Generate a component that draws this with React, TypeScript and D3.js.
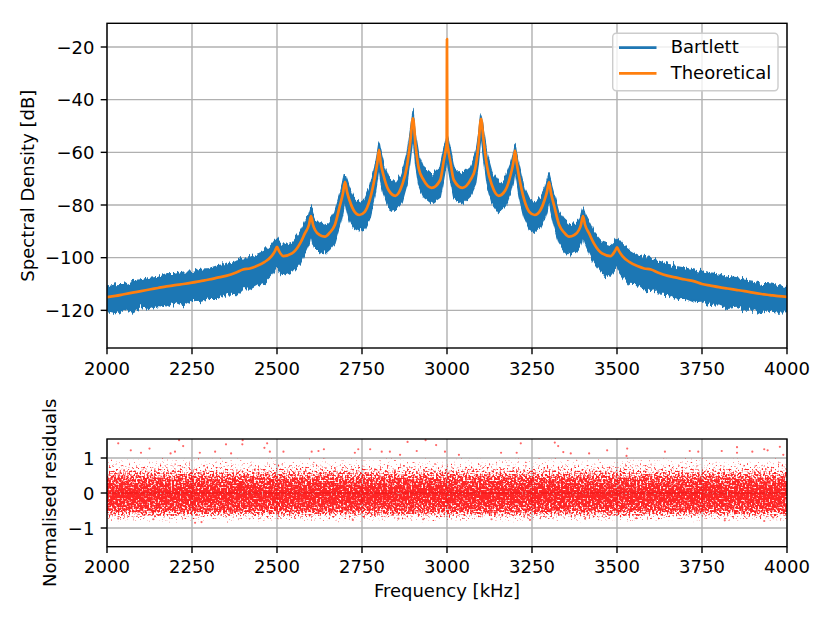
import React from 'react';
import * as d3 from 'd3';

// spectrum (kHz, dB)
const freqs = [
  2000, 2025, 2050, 2075, 2100, 2125, 2150, 2175, 2200, 2225, 2250, 2275, 2300, 2325, 2350,
  2380, 2400, 2420, 2440, 2464, 2484, 2494, 2500, 2506, 2519, 2544,
  2568, 2582, 2594, 2600, 2606, 2612, 2626, 2641, 2655, 2670,
  2685, 2694, 2700, 2706, 2713, 2725, 2742, 2758, 2773,
  2788, 2795, 2800, 2805, 2813, 2828, 2848, 2868, 2882,
  2892, 2900, 2908, 2917, 2931, 2955, 2980, 2990, 2997, 2999, 3000, 3001, 3003,
  3010, 3020, 3045, 3069, 3083, 3092, 3100, 3108, 3118,
  3132, 3152, 3172, 3187, 3195, 3200, 3205, 3212,
  3227, 3242, 3258, 3275, 3287, 3294, 3300, 3306, 3315,
  3330, 3345, 3359, 3374, 3388, 3394, 3400, 3406, 3418, 3432,
  3456, 3481, 3494, 3500, 3506, 3516, 3536, 3560, 3580, 3600, 3620,
  3650, 3675, 3700, 3725, 3750, 3775, 3800, 3825, 3850, 3875, 3900, 3925, 3950, 3975, 4000,
];

const theoretical = [
  -115.0, -114.5, -113.9, -113.3, -112.7, -112.1, -111.5, -110.9, -110.4, -110.0, -109.5, -108.9, -108.3, -107.6, -106.9,
  -105.6, -104.5, -104.1, -103.2, -101.6, -99.4, -97.5, -95.9, -97.5, -99.4, -98.4,
  -94.6, -90.8, -87.5, -84.2, -87.5, -89.5, -91.4, -92.0, -90.5, -87.6,
  -80.2, -75.5, -71.2, -75.0, -78.1, -81.9, -83.8, -82.6, -78.0,
  -69.3, -64.0, -59.1, -64.0, -68.6, -74.3, -76.5, -72.4, -65.5,
  -56.0, -47.1, -58.0, -66.1, -70.5, -73.5, -70.5, -63.6, -58.5, -56.5, -17.0, -56.5, -58.5,
  -63.6, -70.5, -73.5, -70.5, -66.1, -58.0, -47.3, -56.0, -65.5,
  -72.4, -76.5, -74.3, -68.6, -64.0, -59.3, -64.0, -69.3,
  -78.0, -82.6, -83.8, -81.9, -78.1, -75.0, -71.3, -75.5, -80.2,
  -87.6, -90.5, -92.0, -91.4, -89.5, -87.5, -84.2, -87.5, -90.8, -94.6,
  -98.4, -99.4, -97.5, -96.1, -97.5, -99.4, -101.6, -103.2, -104.1, -104.5, -105.6,
  -106.9, -107.6, -108.3, -108.9, -110.0, -110.6, -111.2, -111.7, -112.2, -112.7, -113.3, -113.8, -114.2, -114.6, -114.9,
];

// top and bottom edge of the noisy Bartlett estimate
const bartlettUpper = [
  -111.2, -110.4, -110.2, -109.1, -108.9, -107.9, -107.5, -106.6, -106.4, -105.5, -105.4, -104.5, -104.2, -103.1, -102.7,
  -101.1, -100.2, -100.0, -98.9, -97.5, -95.2, -93.5, -92.6, -93.8, -95.4, -94.2,
  -90.3, -86.8, -83.5, -81.0, -83.6, -85.4, -87.1, -87.8, -86.2, -83.0,
  -76.2, -71.8, -68.5, -71.2, -74.0, -77.4, -79.2, -78.1, -73.4,
  -65.4, -60.4, -56.5, -60.2, -64.4, -69.5, -71.6, -67.7, -61.0,
  -52.2, -44.9, -53.8, -61.1, -65.8, -68.6, -65.7, -59.4, -55.2, -54.2, -53.6, -54.2, -55.0,
  -59.2, -65.6, -68.4, -65.9, -61.3, -54.0, -45.1, -52.4, -60.8,
  -67.6, -71.8, -69.7, -64.5, -60.3, -56.6, -60.5, -65.2,
  -73.6, -77.9, -79.3, -77.2, -74.2, -71.4, -68.5, -71.6, -76.0,
  -83.2, -86.0, -87.6, -87.2, -85.5, -83.7, -81.1, -83.6, -86.6, -90.5,
  -94.1, -95.2, -93.6, -92.7, -93.7, -95.3, -97.2, -99.0, -99.9, -100.4, -101.2,
  -102.6, -103.4, -104.0, -104.7, -105.4, -106.2, -106.7, -107.5, -108.0, -108.6, -109.0, -109.8, -110.0, -110.7, -111.0,
];

const bartlettLower = [
  -120.4, -121.2, -119.5, -120.6, -118.8, -119.7, -118.1, -118.6, -116.8, -118.2, -116.1, -116.6, -115.4, -115.4, -113.6,
  -114.0, -111.6, -111.9, -110.4, -109.1, -106.6, -104.4, -103.0, -104.8, -106.7, -105.4,
  -102.0, -97.8, -94.4, -90.8, -94.6, -96.8, -98.0, -98.5, -96.8, -94.3,
  -87.5, -82.6, -78.0, -81.8, -85.4, -88.6, -89.8, -89.0, -84.6,
  -76.1, -70.4, -65.5, -70.7, -75.4, -80.8, -82.4, -78.7, -72.0,
  -62.6, -53.4, -64.6, -72.1, -76.8, -79.3, -77.0, -70.1, -65.0, -62.8, -61.7, -62.8, -65.1,
  -70.4, -77.2, -79.6, -76.6, -72.5, -64.3, -53.8, -62.4, -72.2,
  -79.0, -82.8, -80.6, -75.2, -70.8, -65.7, -70.5, -76.4,
  -84.8, -89.1, -90.3, -88.4, -85.0, -82.1, -77.8, -82.9, -87.8,
  -94.5, -97.3, -98.8, -97.9, -96.5, -94.8, -91.0, -94.3, -98.1, -101.7,
  -105.8, -107.0, -104.6, -103.2, -105.0, -106.8, -110.0, -110.2, -112.2, -111.8, -113.7,
  -113.9, -115.6, -115.3, -116.7, -116.4, -118.1, -117.8, -119.2, -118.7, -119.9, -119.8, -121.1, -120.2, -120.6, -120.4,
];

// residual cloud: sparse spread and dense core
const residFreq = [2000, 2250, 2500, 2750, 3000, 3250, 3500, 3750, 4000];
const residSpreadUpper = [1.02, 1.0, 1.02, 1.04, 1.02, 1.0, 1.02, 1.02, 1.04];
const residSpreadLower = [-0.84, -0.86, -0.84, -0.84, -0.86, -0.85, -0.84, -0.86, -0.84];
const residCoreUpper = [0.4, 0.38, 0.4, 0.42, 0.4, 0.38, 0.4, 0.4, 0.42];
const residCoreLower = [-0.5, -0.52, -0.5, -0.48, -0.52, -0.5, -0.5, -0.52, -0.5];

const outlierFreq = [
  2033, 2070, 2100, 2125, 2187, 2200, 2212, 2224, 2273, 2318, 2350, 2365, 2398, 2399, 2463, 2471, 2479,
  2519, 2602, 2622, 2638, 2729, 2739, 2774, 2808, 2832, 2862, 2884, 2911, 2937, 2968, 2994,
  3035, 3159, 3205, 3217, 3317, 3327, 3342, 3364, 3418, 3471, 3528, 3530, 3641, 3714, 3739,
  3808, 3853, 3853, 3898, 3933, 3943, 3979, 3989,
  2033, 2136, 2259, 2278, 2723, 2857, 2930, 3131, 3244, 3406, 3557, 3817, 3933, 3959,
];
const outlierValue = [
  1.42, 1.22, 1.15, 1.27, 1.13, 1.18, 1.51, 1.34, 1.15, 1.18, 1.39, 1.13, 1.39, 1.51, 1.29, 1.42, 1.18,
  1.18, 1.18, 1.2, 1.25, 1.15, 1.25, 1.25, 1.18, 1.18, 1.09, 1.46, 1.2, 1.51, 1.37, 1.18,
  1.09, 1.15, 1.15, 1.42, 1.44, 1.34, 1.17, 1.13, 1.13, 1.22, 1.06, 1.27, 1.18, 1.2, 1.18,
  1.2, 1.31, 1.15, 1.18, 1.25, 1.22, 1.32, 1.09,
  -0.73, -0.75, -0.85, -0.83, -0.77, -0.73, -0.75, -0.75, -0.77, -0.73, -0.72, -0.78, -0.8, -0.7,
];

const freqTicks = [2000, 2250, 2500, 2750, 3000, 3250, 3500, 3750, 4000];
const densityTicks = [-120, -100, -80, -60, -40, -20];
const residTicks = [-1, 0, 1];

const FONT = 'DejaVu Sans, sans-serif';
const FS = 18;
const GRID = '#b0b0b0';
const TICK = 6.3;

const L = 107;
const R = 787;
const T1 = 23.3;
const B1 = 348;
const T2 = 439;
const B2 = 546.7;

export default function App() {
  const x = d3.scaleLinear().domain([2000, 4000]).range([L, R]);
  const y1 = d3.scaleLinear().domain([-134.3, -11.0]).range([B1, T1]);
  const y2 = d3.scaleLinear().domain([-1.534, 1.543]).range([B2, T2]);
  const fmt = d3.format('d');

  const band = d3
    .area<number>()
    .x((_, i) => x(freqs[i]))
    .y0((_, i) => y1(bartlettLower[i]))
    .y1((_, i) => y1(bartlettUpper[i]));

  const theo = d3
    .line<number>()
    .x((_, i) => x(freqs[i]))
    .y((d) => y1(d))
    .curve(d3.curveMonotoneX);

  const spread = d3
    .area<number>()
    .x((_, i) => x(residFreq[i]))
    .y0((_, i) => y2(residSpreadLower[i]))
    .y1((_, i) => y2(residSpreadUpper[i]));

  // density profile of the residual cloud, as gradient stops
  const gTop = y2(d3.max(residSpreadUpper) as number);
  const gBot = y2(d3.min(residSpreadLower) as number);
  const off = (v: number) => (y2(v) - gTop) / (gBot - gTop);
  const coreTop = off(d3.mean(residCoreUpper) as number);
  const coreBot = off(d3.mean(residCoreLower) as number);

  const yTicks = (scale: d3.ScaleLinear<number, number>, ticks: number[]) =>
    ticks.map((t) => (
      <g key={t}>
        <line x1={L} x2={L - TICK} y1={scale(t)} y2={scale(t)} stroke="#000" strokeWidth={1.4} />
        <text x={L - TICK - 6.3} y={scale(t) + 0.365 * FS} textAnchor="end" fontSize={FS}>
          {fmt(t)}
        </text>
      </g>
    ));

  const xTicks = (bottom: number) =>
    freqTicks.map((t) => (
      <g key={t}>
        <line x1={x(t)} x2={x(t)} y1={bottom} y2={bottom + TICK} stroke="#000" strokeWidth={1.4} />
        <text x={x(t)} y={bottom + 26.6} textAnchor="middle" fontSize={FS}>
          {t}
        </text>
      </g>
    ));

  const grid = (top: number, bottom: number, scale: d3.ScaleLinear<number, number>, ticks: number[]) => (
    <g stroke={GRID} strokeWidth={1.4}>
      {freqTicks.map((t) => (
        <line key={'v' + t} x1={x(t)} x2={x(t)} y1={top} y2={bottom} />
      ))}
      {ticks.map((t) => (
        <line key={'h' + t} x1={L} x2={R} y1={scale(t)} y2={scale(t)} />
      ))}
    </g>
  );

  return (
    <svg
      width={830}
      height={623}
      style={{ position: 'absolute', left: 0, top: 0, background: '#fff' }}
      fontFamily={FONT}
    >
      <defs>
        <clipPath id="clipTop">
          <rect x={L} y={T1} width={R - L} height={B1 - T1} />
        </clipPath>
        <clipPath id="clipBot">
          <rect x={L} y={T2} width={R - L} height={B2 - T2} />
        </clipPath>
        {/* ragged edge for the noisy estimate */}
        <filter id="jitter" x="-2%" y="-10%" width="104%" height="120%">
          <feTurbulence type="fractalNoise" baseFrequency="0.45 0.03" numOctaves={2} seed={7} result="n" />
          <feColorMatrix
            in="n"
            type="matrix"
            values="0 0 0 0 0.5  1 0 0 0 0  0 0 0 0 0  0 0 0 0 1"
            result="m"
          />
          <feDisplacementMap in="SourceGraphic" in2="m" scale={11} xChannelSelector="R" yChannelSelector="G" />
        </filter>
        {/* speckle texture for the scatter cloud */}
        <filter id="speckle" x="0" y="-5%" width="100%" height="110%">
          <feTurbulence type="fractalNoise" baseFrequency="0.55" numOctaves={1} seed={3} result="n" />
          <feColorMatrix
            in="n"
            type="matrix"
            values="0 0 0 0 1  0 0 0 0 0  0 0 0 0 0  1.6 0 0 0 -0.3"
            result="na"
          />
          <feComposite in="na" in2="SourceGraphic" operator="arithmetic" k1={0} k2={3.5} k3={3.5} k4={-3.5} />
        </filter>
        <linearGradient id="residGrad" gradientUnits="userSpaceOnUse" x1={0} x2={0} y1={gTop} y2={gBot}>
          <stop offset={0} stopColor="#ff0000" stopOpacity={0.14} />
          <stop offset={coreTop * 0.5} stopColor="#ff0000" stopOpacity={0.42} />
          <stop offset={coreTop} stopColor="#ff0000" stopOpacity={0.76} />
          <stop offset={(coreTop + coreBot) / 2} stopColor="#ff0000" stopOpacity={0.95} />
          <stop offset={coreBot} stopColor="#ff0000" stopOpacity={0.76} />
          <stop offset={coreBot + (1 - coreBot) * 0.5} stopColor="#ff0000" stopOpacity={0.42} />
          <stop offset={1} stopColor="#ff0000" stopOpacity={0.14} />
        </linearGradient>
      </defs>

      {/* spectral density panel */}
      {grid(T1, B1, y1, densityTicks)}
      <g clipPath="url(#clipTop)">
        <g filter="url(#jitter)">
          <path d={band(freqs) || ''} fill="#1f77b4" stroke="#1f77b4" strokeWidth={1.5} strokeLinejoin="round" />
        </g>
        <path
          d={theo(theoretical) || ''}
          fill="none"
          stroke="#ff7f0e"
          strokeWidth={2.7}
          strokeLinejoin="round"
        />
      </g>
      <rect x={L} y={T1} width={R - L} height={B1 - T1} fill="none" stroke="#000" strokeWidth={1.4} />
      {yTicks(y1, densityTicks)}
      {xTicks(B1)}
      <text transform={`translate(34,${(T1 + B1) / 2}) rotate(-90)`} textAnchor="middle" fontSize={FS}>
        Spectral Density [dB]
      </text>

      {/* legend */}
      <g>
        <rect
          x={612.7}
          y={33.3}
          width={165.3}
          height={57.4}
          rx={3.6}
          fill="#fff"
          fillOpacity={0.8}
          stroke="#cccccc"
          strokeWidth={1.4}
        />
        <line x1={619} x2={656.5} y1={47.7} y2={47.7} stroke="#1f77b4" strokeWidth={2.7} />
        <text x={670.7} y={53.4} fontSize={FS}>
          Bartlett
        </text>
        <line x1={619} x2={656.5} y1={73.3} y2={73.3} stroke="#ff7f0e" strokeWidth={2.7} />
        <text x={670.7} y={79.3} fontSize={FS}>
          Theoretical
        </text>
      </g>

      {/* residuals panel */}
      {grid(T2, B2, y2, residTicks)}
      <g clipPath="url(#clipBot)">
        <g filter="url(#speckle)" opacity={0.85}>
          <path d={spread(residFreq) || ''} fill="url(#residGrad)" />
        </g>
        {outlierFreq.map((f, i) => (
          <circle key={i} cx={x(f)} cy={y2(outlierValue[i])} r={1.1} fill="#ff0000" fillOpacity={0.6} />
        ))}
      </g>
      <rect x={L} y={T2} width={R - L} height={B2 - T2} fill="none" stroke="#000" strokeWidth={1.4} />
      {yTicks(y2, residTicks)}
      {xTicks(B2)}
      <text transform={`translate(56.3,${(T2 + B2) / 2}) rotate(-90)`} textAnchor="middle" fontSize={FS}>
        Normalised residuals
      </text>
      <text x={(L + R) / 2} y={597} textAnchor="middle" fontSize={FS}>
        Frequency [kHz]
      </text>
    </svg>
  );
}
